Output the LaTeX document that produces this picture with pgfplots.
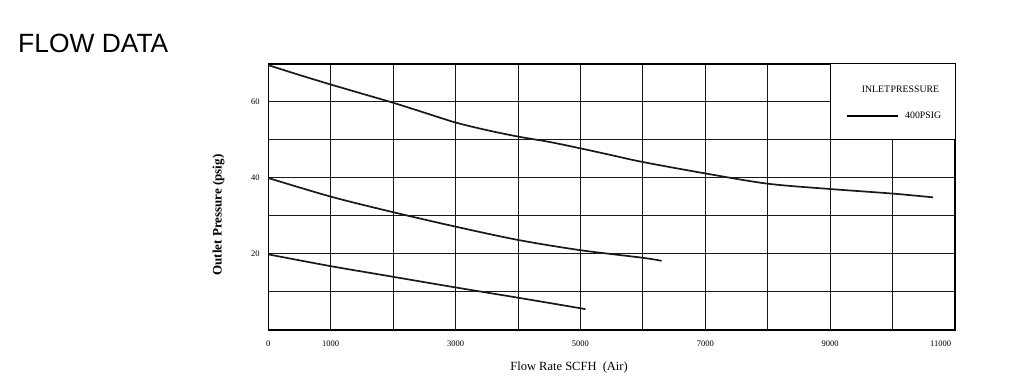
\documentclass[border=0pt]{standalone}
\usepackage{pgfplots}
\pgfplotsset{compat=1.18}
\usepackage{fontspec}
\setmainfont{Liberation Serif}
\newfontfamily\titlefont{Liberation Sans}

\pgfplotstableread{
x y
0 69.7
500 67.1
1000 64.6
1500 62.2
2000 59.8
2500 57.2
3000 54.6
3500 52.6
4000 50.9
4500 49.5
5000 47.8
5500 46.0
6000 44.2
7000 41.2
8000 38.5
9000 37.1
10000 35.9
10650 34.9
}\curveA
\pgfplotstableread{
x y
0 40.0
1000 35.1
2000 31.0
3000 27.2
4000 23.7
5000 21.0
6000 19.0
6300 18.2
}\curveB
\pgfplotstableread{
x y
0 19.9
1000 16.8
2000 14.0
3000 11.2
4000 8.5
5080 5.5
}\curveC

\begin{document}
\begin{tikzpicture}
\useasboundingbox (0,0) rectangle (1023bp,383bp);
\node[anchor=base west, inner sep=0, font=\titlefont\fontsize{26.4bp}{30bp}\selectfont] at (18bp,330.3bp) {FLOW DATA};
\node[anchor=base, inner sep=0, rotate=90, font=\fontsize{13bp}{15bp}\selectfont\bfseries] at (221.7bp,168bp) {Outlet\ Pressure\ (psig)};
\begin{axis}[
  at={(268.3bp,53bp)}, anchor=south west,
  scale only axis,
  width=686.7bp, height=266bp,
  xmin=0, xmax=11000, ymin=0, ymax=70,
  xtick={0,1000,3000,5000,7000,9000,10770},
  xticklabels={0,1000,3000,5000,7000,9000,11000},
  minor xtick={1000,2000,...,10000},
  ytick={20,40,60},
  minor ytick={10,30,50},
  xminorgrids=true,
  ymajorgrids=true, yminorgrids=true,
  major tick length=0pt, minor tick length=0pt,
  grid style={black!90, line width=1bp},
  minor grid style={black!90, line width=1bp},
  axis line style={black, line width=1.1bp},
  scaled x ticks=false,
  /pgf/number format/assume math mode=true,
  xticklabel style={font=\fontsize{8.5bp}{10bp}\selectfont, anchor=center, inner sep=0, yshift=-14bp},
  yticklabel style={font=\fontsize{8.5bp}{10bp}\selectfont, anchor=east, inner sep=0, xshift=-8.5bp},
  xlabel={Flow Rate SCFH\ \ (Air)},
  xlabel style={at={(rel axis cs:0.438,0)}, anchor=base, inner sep=0, yshift=-40.7bp, font=\fontsize{12.5bp}{14bp}\selectfont},
  clip=false,
]
\addplot[black!90, line width=1.7bp, smooth, tension=0.5] table {\curveA};
\addplot[black!90, line width=1.7bp, smooth, tension=0.5] table {\curveB};
\addplot[black!90, line width=1.7bp, smooth, tension=0.5] table {\curveC};
\draw[black, line width=1bp, fill=white] (axis cs:9000,50) rectangle (axis cs:11000,70);
\node[font=\fontsize{9.8bp}{11bp}\selectfont, inner sep=0] at (axis cs:10127,63.3) {INLET\kern0.5bp PRESSURE};
\draw[black, line width=1.7bp] (axis cs:9267,56.4) -- (axis cs:10085,56.4);
\node[font=\fontsize{9.8bp}{11bp}\selectfont, inner sep=0, anchor=west] at (axis cs:10199,56.4) {400PSIG};
\end{axis}
\end{tikzpicture}
\end{document}
